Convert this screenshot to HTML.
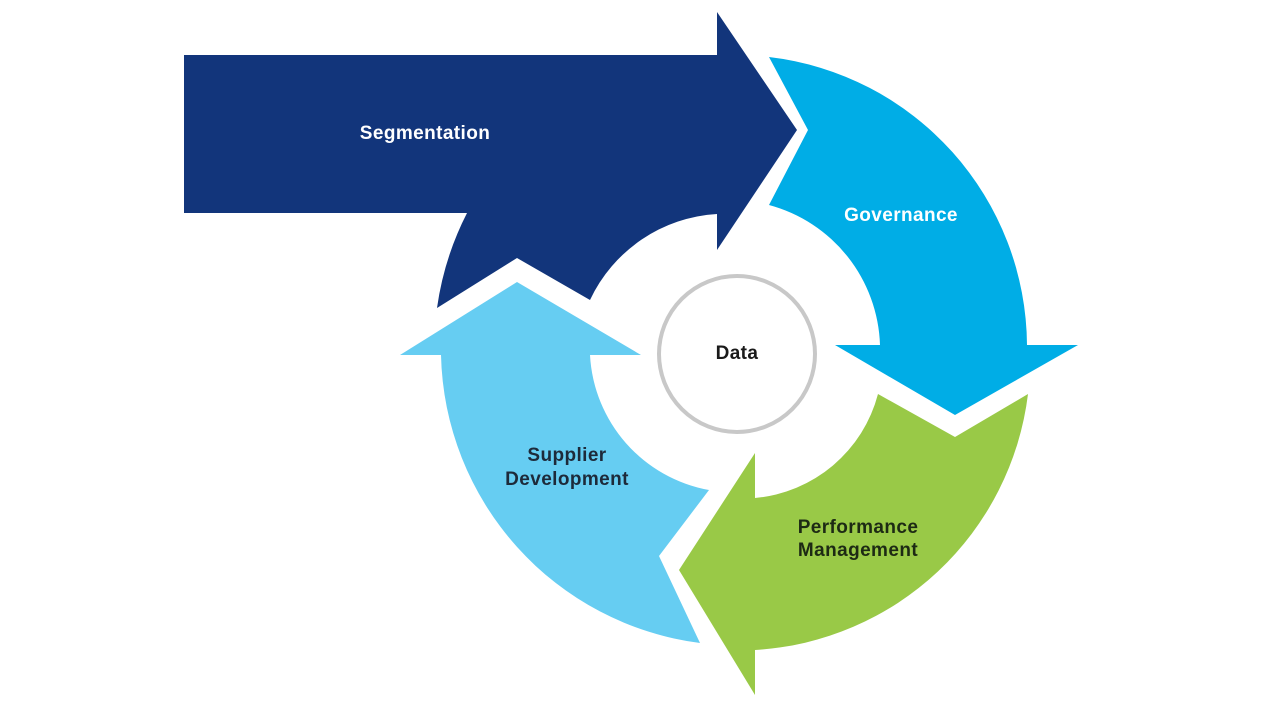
<!DOCTYPE html>
<html><head><meta charset="utf-8"><style>
html,body{margin:0;padding:0;background:#fff;}
svg{display:block;}
text{font-family:"Liberation Sans",sans-serif;font-weight:bold;font-size:19px;letter-spacing:0.4px;text-anchor:middle;dominant-baseline:middle;}
</style></head><body>
<svg width="1280" height="720" viewBox="0 0 1280 720">
<rect width="1280" height="720" fill="#fff"/>
<path d="M184,55 L717,55 L717,12 L797,130 L717,250 L717,214 A150,150 0 0 0 590,300 L517,258 L437,308 A300,300 0 0 1 467,213 L184,213 Z" fill="#12357b"/>
<path d="M769,57 L808,130 L769,205 A150,150 0 0 1 880,345 L835,345 L955,415 L1078,345 L1027,345 A292,292 0 0 0 769,57 Z" fill="#00ade6"/>
<path d="M878,394 L955,437 L1028,394 A292,292 0 0 1 755,650 L755,695 L679,570 L755,453 L755,498 A140,140 0 0 0 878,394 Z" fill="#99c947"/>
<path d="M700,643 L659,556 L709,490 A145,145 0 0 1 590,355 L641,355 L517,282 L400,355 L441,355 A297,297 0 0 0 700,643 Z" fill="#66cdf2"/>
<circle cx="737" cy="354" r="78" fill="#fff" stroke="#c8c8c8" stroke-width="4"/>
<text x="425" y="134" fill="#fff">Segmentation</text>
<text x="901" y="216" fill="#fff">Governance</text>
<text x="737" y="354" fill="#1a1a1a">Data</text>
<text x="567" y="456" fill="#1d2a3a">Supplier</text>
<text x="567" y="480" fill="#1d2a3a">Development</text>
<text x="858" y="528" fill="#1d2a14">Performance</text>
<text x="858" y="551" fill="#1d2a14">Management</text>
</svg>
</body></html>
